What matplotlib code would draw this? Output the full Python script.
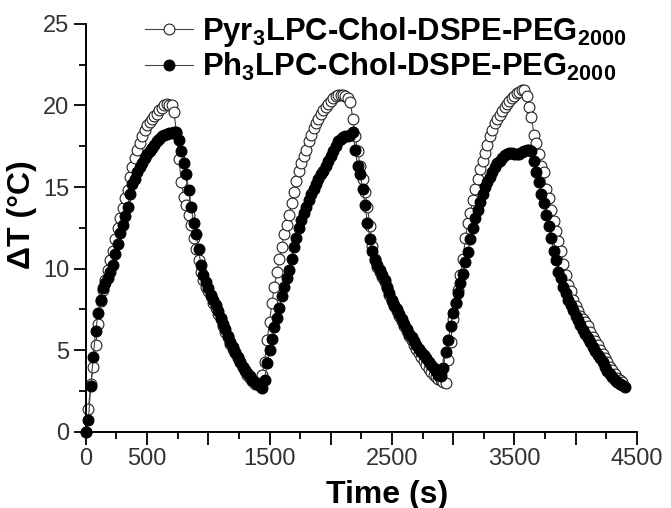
import matplotlib
matplotlib.use("Agg")
import matplotlib.pyplot as plt
import numpy as np

plt.rcParams['font.family'] = ['Liberation Sans', 'DejaVu Sans']
plt.rcParams['mathtext.fontset'] = 'custom'
plt.rcParams['mathtext.bf'] = 'Liberation Sans:bold'
plt.rcParams['mathtext.rm'] = 'Liberation Sans'

# sampling interval of the thermocouple readings (s)
time_step_s = 20

# Pyr3LPC-Chol-DSPE-PEG2000, open circles, one value every 20 s from t = 0
pyr_dT = [
    0.0, 1.4, 2.9, 4.0, 5.3, 6.6, 8.0, 8.7, 9.3, 9.9,
    10.5, 11.1, 11.8, 12.5, 13.1, 13.7, 14.3, 14.8, 15.6, 16.2,
    16.8, 17.3, 17.7, 18.1, 18.5, 18.8, 19.0, 19.2, 19.35, 19.5,
    19.7, 19.85, 20.0, 20.1, 20.05, 20.0, 19.6, 18.3, 16.7, 15.3,
    14.4, 13.9, 13.3, 12.7, 11.9, 11.2, 10.5, 9.8, 9.3, 8.9,
    8.6, 8.3, 7.9, 7.6, 7.2, 6.9, 6.5, 6.1, 5.8, 5.4,
    5.1, 4.8, 4.5, 4.25, 4.0, 3.75, 3.5, 3.3, 3.1, 2.95,
    2.9, 3.0, 3.5, 4.3, 5.6, 6.7, 7.9, 8.9, 9.8, 10.6,
    11.3, 12.1, 12.7, 13.3, 14.0, 14.7, 15.4, 16.0, 16.5, 16.9,
    17.3, 17.8, 18.2, 18.6, 18.9, 19.2, 19.45, 19.7, 19.9, 20.1,
    20.3, 20.45, 20.55, 20.65, 20.65, 20.65, 20.6, 20.45, 20.2, 19.2,
    18.1, 17.2, 16.3, 15.5, 14.7, 13.8, 12.6, 11.4, 10.6, 10.1,
    9.8, 9.5, 9.15, 8.8, 8.4, 8.0, 7.7, 7.4, 7.1, 6.8,
    6.5, 6.2, 5.9, 5.6, 5.35, 5.1, 4.85, 4.6, 4.35, 4.1,
    3.85, 3.65, 3.5, 3.35, 3.25, 3.15, 3.05, 3.0, 4.4, 5.5,
    6.9, 7.9, 8.7, 9.6, 10.6, 11.9, 12.8, 13.4, 14.2, 14.9,
    15.5, 16.1, 16.6, 17.1, 17.6, 18.1, 18.5, 18.9, 19.15, 19.4,
    19.65, 19.9, 20.1, 20.3, 20.45, 20.6, 20.75, 20.85, 20.95, 20.95,
    20.6, 19.9, 19.3, 18.2, 17.7, 17.0, 16.3, 15.9, 14.9, 14.3,
    13.6, 12.9, 12.3, 11.7, 11.1, 10.3, 9.6, 9.0, 8.6, 8.1,
    7.7, 7.4, 7.1, 6.9, 6.7, 6.5, 6.1, 5.8, 5.55, 5.3,
    5.0, 4.75, 4.5, 4.25, 4.0, 3.8, 3.55, 3.3, 3.15, 3.05,
]

# Ph3LPC-Chol-DSPE-PEG2000, filled circles
ph_dT = [
    0.0, 0.7, 2.8, 4.6, 6.2, 7.3, 8.1, 8.8, 9.1, 9.4,
    9.8, 10.2, 10.9, 11.5, 12.2, 12.7, 13.2, 13.8, 14.6, 15.2,
    15.5, 15.9, 16.2, 16.5, 16.8, 17.0, 17.2, 17.4, 17.6, 17.8,
    17.95, 18.1, 18.2, 18.25, 18.3, 18.3, 18.35, 18.4, 17.9, 17.2,
    16.5, 15.8, 14.8, 13.8, 12.8, 12.1, 11.2, 10.2, 9.6, 9.2,
    8.8, 8.4, 8.1, 7.8, 7.4, 7.0, 6.6, 6.3, 5.9, 5.5,
    5.2, 4.9, 4.6, 4.3, 4.0, 3.8, 3.6, 3.4, 3.2, 3.05,
    2.9, 2.8, 2.7, 3.2, 4.2, 5.0, 5.7, 6.4, 7.0, 7.6,
    8.3, 8.9, 9.4, 9.9, 10.6, 11.3, 11.9, 12.5, 13.0, 13.4,
    13.8, 14.2, 14.6, 14.9, 15.2, 15.5, 15.8, 16.0, 16.3, 16.6,
    16.9, 17.2, 17.5, 17.8, 17.95, 18.05, 18.1, 18.1, 18.2, 18.35,
    17.3, 16.3, 15.8, 14.9, 13.9, 12.8, 11.8, 11.1, 10.5, 10.2,
    9.9, 9.6, 9.3, 8.9, 8.5, 8.1, 7.8, 7.5, 7.2, 6.9,
    6.6, 6.3, 6.0, 5.8, 5.55, 5.3, 5.1, 4.9, 4.7, 4.5,
    4.3, 4.1, 3.9, 3.7, 3.5, 3.4, 3.9, 4.9, 5.6, 6.5,
    7.3, 7.9, 8.5, 9.1, 9.7, 10.4, 11.0, 11.8, 12.5, 13.1,
    13.6, 14.1, 14.6, 15.0, 15.3, 15.6, 15.9, 16.2, 16.45, 16.6,
    16.8, 16.95, 17.05, 17.1, 17.1, 17.05, 17.0, 17.05, 17.15, 17.2,
    17.25, 17.3, 17.2, 16.6, 15.9, 15.3, 14.6, 14.0, 13.3, 12.6,
    11.9, 11.1, 10.5, 9.8, 9.4, 8.9, 8.5, 8.1, 7.8, 7.45,
    7.1, 6.85, 6.55, 6.25, 6.0, 5.75, 5.5, 5.2, 4.95, 4.7,
    4.5, 4.25, 4.0, 3.75, 3.55, 3.35, 3.2, 3.05, 2.95, 2.85,
    2.75,
]

pyr_label = r'Pyr$_\mathbf{3}$LPC-Chol-DSPE-PEG$_\mathbf{2000}$'
ph_label = r'Ph$_\mathbf{3}$LPC-Chol-DSPE-PEG$_\mathbf{2000}$'

x_labelled = [0, 500, 1500, 2500, 3500, 4500]

pyr_t = np.arange(len(pyr_dT)) * time_step_s
ph_t = np.arange(len(ph_dT)) * time_step_s

fig = plt.figure(figsize=(6.71, 5.08), dpi=100)
ax = fig.add_axes([0.128, 0.15, 0.821, 0.803])

ax.plot(pyr_t, pyr_dT, '-o', color='#444444', lw=0.8, ms=7.8,
        mfc='white', mec='#222222', mew=0.8, label=pyr_label, clip_on=False)
ax.plot(ph_t, ph_dT, '-o', color='#444444', lw=0.8, ms=7.8,
        mfc='black', mec='black', mew=0.8, label=ph_label, clip_on=False)

ax.set_xlim(0, 4500)
ax.set_ylim(0, 25)

ax.set_xticks(np.arange(0, 4501, 500))
ax.set_xticklabels([str(v) if v in x_labelled else '' for v in range(0, 4501, 500)])
ax.set_xticks(np.arange(250, 4500, 500), minor=True)
ax.set_yticks(np.arange(0, 26, 5))
ax.set_yticks(np.arange(2.5, 25, 5), minor=True)

for side in ['top', 'right']:
    ax.spines[side].set_visible(False)
for side in ['left', 'bottom']:
    ax.spines[side].set_linewidth(1.4)

ax.tick_params(which='major', direction='out', length=9, width=1.3,
               labelsize=17, labelcolor='#333333', pad=3)
ax.tick_params(which='minor', direction='out', length=5, width=1.3)

ax.set_xlabel('Time (s)', fontsize=23, fontweight='bold')
ax.xaxis.set_label_coords(0.546, -0.117)
ax.set_ylabel('ΔT (°C)', fontsize=23, fontweight='bold')
ax.yaxis.set_label_coords(-0.089, 0.532)

leg = ax.legend(loc='upper left', bbox_to_anchor=(0.085, 1.052), frameon=False,
                prop={'size': 22.3, 'weight': 'bold'}, handlelength=1.55,
                handletextpad=0.3, labelspacing=0.06, borderaxespad=0)

fig.savefig('out.png', dpi=100)
